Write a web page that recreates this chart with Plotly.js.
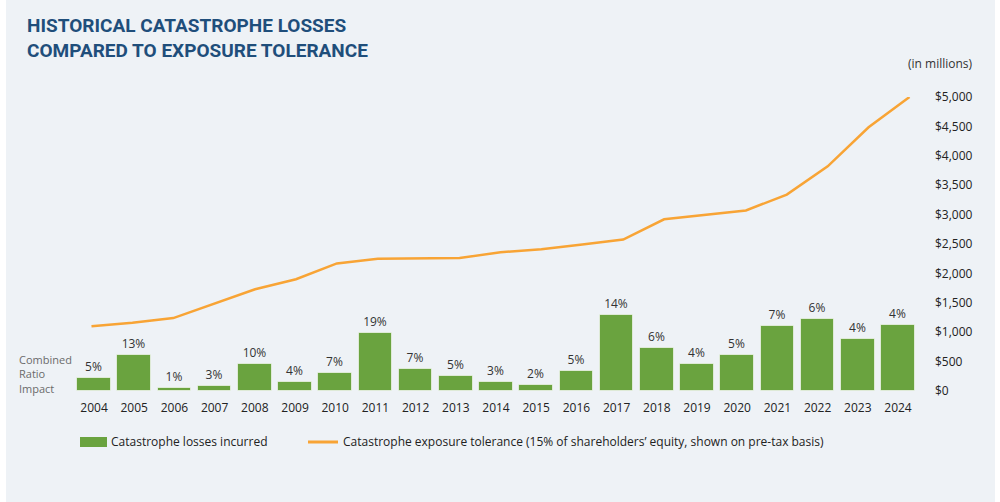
<!DOCTYPE html>
<html>
<head>
<meta charset="utf-8">
<script src="https://cdn.plot.ly/plotly-3.0.1.min.js"></script>
<style>
  html, body { margin: 0; padding: 0; background: #ffffff; }
  #chart { position: absolute; left: 6px; top: 0; width: 989px; height: 502px; }
</style>
</head>
<body>
<div id="chart"></div>
<script>
// Years on the horizontal axis
const years = [2004, 2005, 2006, 2007, 2008, 2009, 2010, 2011, 2012, 2013, 2014,
               2015, 2016, 2017, 2018, 2019, 2020, 2021, 2022, 2023, 2024];

// Catastrophe losses incurred ($ millions)
const catLosses = [215, 605, 55, 85, 460, 150, 305, 980, 380, 250, 160,
                   95, 340, 1300, 725, 460, 605, 1100, 1220, 880, 1115];

// Combined ratio impact (%) shown above each bar
const ratioImpact = [5, 13, 1, 3, 10, 4, 7, 19, 7, 5, 3,
                     2, 5, 14, 6, 4, 5, 7, 6, 4, 4];

// Catastrophe exposure tolerance ($ millions)
const exposureTolerance = [1100, 1160, 1240, 1490, 1730, 1900, 2170, 2250, 2255, 2260, 2360,
                           2410, 2490, 2575, 2920, 2990, 3070, 3340, 3820, 4485, 5000];

// Right-hand axis ticks
const yTickVals = [0, 500, 1000, 1500, 2000, 2500, 3000, 3500, 4000, 4500, 5000];
const yTickText = yTickVals.map(v => '$' + v.toLocaleString('en-US'));

const chartTitle = 'HISTORICAL CATASTROPHE LOSSES<br>COMPARED TO EXPOSURE TOLERANCE';
const barName = 'Catastrophe losses incurred';
const lineName = 'Catastrophe exposure tolerance (15% of shareholders’ equity, shown on pre-tax basis)';

const GREEN = '#6aa33f';
const ORANGE = '#f8a435';
const BG = '#eef2f6';
const FONT = '"Open Sans", "Noto Sans", sans-serif';

// Plot-area geometry (pixels within the chart div)
const W = 989, H = 502;
const M = { l: 54, r: 64, t: 97, b: 111 };
const plotW = W - M.l - M.r;
const plotH = H - M.t - M.b;
// page pixel -> paper coordinate helpers for the legend, title and side notes
const px = x => (x - 6 - M.l) / plotW;
const py = y => (H - M.b - y) / plotH;

const bars = {
  type: 'bar',
  name: barName,
  x: years,
  y: catLosses,
  width: 0.84,
  marker: { color: GREEN, line: { color: 'rgba(255,255,255,0.6)', width: 1 } },
  text: ratioImpact.map(v => v + '%'),
  textposition: 'outside',
  textfont: { family: FONT, size: 12, color: '#333333' },
  cliponaxis: false,
  hoverinfo: 'x+y',
  showlegend: false
};

const line = {
  type: 'scatter',
  mode: 'lines',
  name: lineName,
  x: years,
  y: exposureTolerance,
  xaxis: 'x2',
  line: { color: ORANGE, width: 2.5 },
  cliponaxis: false,
  showlegend: false
};

const layout = {
  width: W,
  height: H,
  margin: M,
  paper_bgcolor: BG,
  plot_bgcolor: BG,
  showlegend: false,
  bargap: 0,
  xaxis: {
    type: 'linear',
    range: [2003.154, 2024.821],
    tickvals: years,
    ticktext: years.map(String),
    ticks: 'outside', ticklen: 6, tickcolor: 'rgba(0,0,0,0)',
    tickfont: { family: FONT, size: 12, color: '#222222' },
    showgrid: false, zeroline: false, showline: false,
    fixedrange: true
  },
  xaxis2: {
    type: 'linear',
    overlaying: 'x',
    range: [2003.230, 2024.526],
    visible: false,
    fixedrange: true
  },
  yaxis: {
    side: 'right',
    range: [0, 5000],
    tickvals: yTickVals,
    ticktext: yTickText,
    ticks: '',
    ticklabelstandoff: 3,
    tickfont: { family: FONT, size: 12, color: '#222222' },
    showgrid: false, zeroline: false, showline: false,
    fixedrange: true
  },
  shapes: [
    // legend swatches
    { type: 'rect', xref: 'paper', yref: 'paper',
      x0: px(80), x1: px(107), y0: py(447), y1: py(437),
      fillcolor: GREEN, line: { width: 0 } },
    { type: 'line', xref: 'paper', yref: 'paper',
      x0: px(308), x1: px(338), y0: py(442), y1: py(442),
      line: { color: ORANGE, width: 3 } }
  ],
  annotations: [
    // chart heading
    { text: chartTitle, xref: 'paper', yref: 'paper', x: px(25), y: py(12),
      xanchor: 'left', yanchor: 'top', align: 'left', showarrow: false,
      font: { family: 'Roboto, "Liberation Sans", sans-serif', size: 19, weight: 700, color: '#1f4e7b' } },
    { text: barName, xref: 'paper', yref: 'paper', x: px(109), y: py(441),
      xanchor: 'left', yanchor: 'middle', showarrow: false,
      font: { family: FONT, size: 12, color: '#222222' } },
    { text: lineName, xref: 'paper', yref: 'paper', x: px(341), y: py(441),
      xanchor: 'left', yanchor: 'middle', showarrow: false,
      font: { family: FONT, size: 12, color: '#222222' } },
    { text: '(in millions)', xref: 'paper', yref: 'paper', x: px(975), y: py(63),
      xanchor: 'right', yanchor: 'middle', showarrow: false,
      font: { family: FONT, size: 12, color: '#333333' } },
    { text: 'Combined<br>Ratio<br>Impact', xref: 'paper', yref: 'paper', x: px(17), y: py(374),
      xanchor: 'left', yanchor: 'middle', align: 'left', showarrow: false,
      font: { family: FONT, size: 11, color: '#6b6b6b' } }
  ]
};

Plotly.newPlot('chart', [bars, line], layout, { displayModeBar: false });
</script>
</body>
</html>
